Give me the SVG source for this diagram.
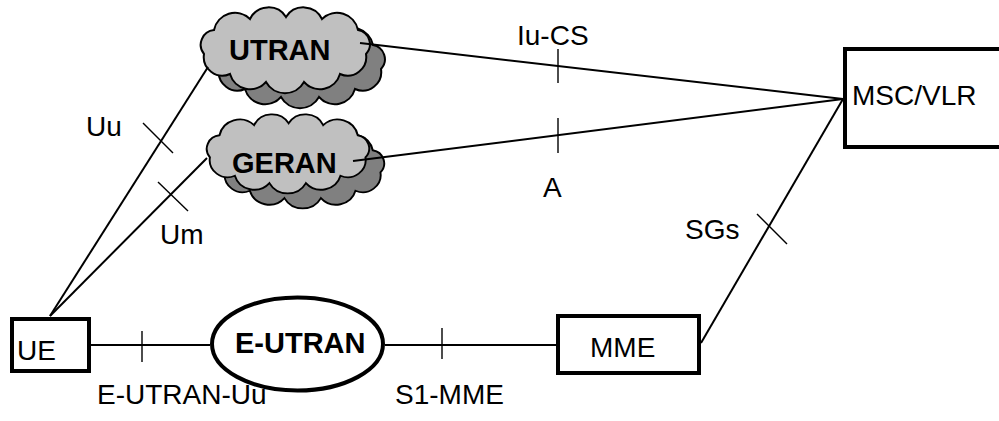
<svg xmlns="http://www.w3.org/2000/svg" width="999" height="421" viewBox="0 0 999 421">
<style>
.box{fill:#fff;stroke:#000;stroke-width:4}
.lbl{font-family:"Liberation Sans",Arial,sans-serif;font-size:28px;fill:#000}
.bold{font-family:"Liberation Sans",Arial,sans-serif;font-size:29px;font-weight:bold;fill:#000}
.conn{stroke:#000;stroke-width:2;fill:none}
.tick{stroke:#000;stroke-width:1.4;fill:none}
.cf{fill:#c0c0c0;stroke:#000;stroke-width:2}
.cb{fill:#808080;stroke:#000;stroke-width:2}
</style>
<defs>
<path id="cloud" d="M2,46 A14.8,14.8 0 0 1 12,22 A21.4,21.4 0 0 1 48,11 A20.6,20.6 0 0 1 84,9 A20.6,20.6 0 0 1 120,11 A21.4,21.4 0 0 1 156,22 A14.4,14.4 0 0 1 164,46 A18.7,18.7 0 0 1 138,66 A21,21 0 0 1 102,74 A21.7,21.7 0 0 1 64,74 A21,21 0 0 1 28,66 A18.7,18.7 0 0 1 2,46 Z"/>
</defs>
<rect width="999" height="421" fill="#fff"/>
<g id="utran">
<use href="#cloud" class="cb" transform="translate(217,23)"/>
<use href="#cloud" class="cf" transform="translate(202,8)"/>
<text class="bold" x="229" y="60">UTRAN</text>
</g>
<g id="geran">
<use href="#cloud" class="cb" transform="translate(223,130) scale(0.96,0.92)"/>
<use href="#cloud" class="cf" transform="translate(208,115) scale(0.96,0.92)"/>
<text class="bold" x="232" y="173">GERAN</text>
</g>
<g id="ue">
<rect class="box" x="12" y="319" width="77" height="52"/>
<text class="lbl" x="17" y="360">UE</text>
</g>
<g id="eutran">
<ellipse cx="297.5" cy="344" rx="85.5" ry="46.5" fill="#fff" stroke="#000" stroke-width="4"/>
<text class="bold" x="235" y="353">E-UTRAN</text>
</g>
<g id="mme">
<rect class="box" x="558" y="316" width="141" height="57"/>
<text class="lbl" x="590" y="357">MME</text>
</g>
<g id="msc">
<rect class="box" x="845" y="49" width="160" height="98"/>
<text class="lbl" x="852" y="105">MSC/VLR</text>
</g>
<g id="connectors">
<line class="conn" x1="50" y1="316" x2="208" y2="67"/>
<line class="conn" x1="50" y1="316" x2="207" y2="158"/>
<line class="conn" x1="91" y1="345" x2="210" y2="345"/>
<line class="conn" x1="385" y1="345" x2="556" y2="345"/>
<line class="conn" x1="701" y1="343" x2="843" y2="99"/>
<line class="conn" x1="360" y1="43" x2="843" y2="99"/>
<line class="conn" x1="353" y1="161" x2="843" y2="99"/>
<line class="tick" x1="143" y1="123" x2="173" y2="153"/>
<line class="tick" x1="158" y1="182" x2="188" y2="211"/>
<line class="tick" x1="142" y1="331" x2="142" y2="362"/>
<line class="tick" x1="442" y1="328" x2="442" y2="359"/>
<line class="tick" x1="757" y1="214" x2="787" y2="244"/>
<line class="tick" x1="558" y1="49" x2="558" y2="83"/>
<line class="tick" x1="558" y1="118" x2="558" y2="153"/>
<text class="lbl" x="86" y="136">Uu</text>
<text class="lbl" x="160" y="244">Um</text>
<text class="lbl" x="97" y="404">E-UTRAN-Uu</text>
<text class="lbl" x="395" y="404">S1-MME</text>
<text class="lbl" x="685" y="239">SGs</text>
<text class="lbl" x="517" y="45">Iu-CS</text>
<text class="lbl" x="543" y="197">A</text>
</g>
</svg>
